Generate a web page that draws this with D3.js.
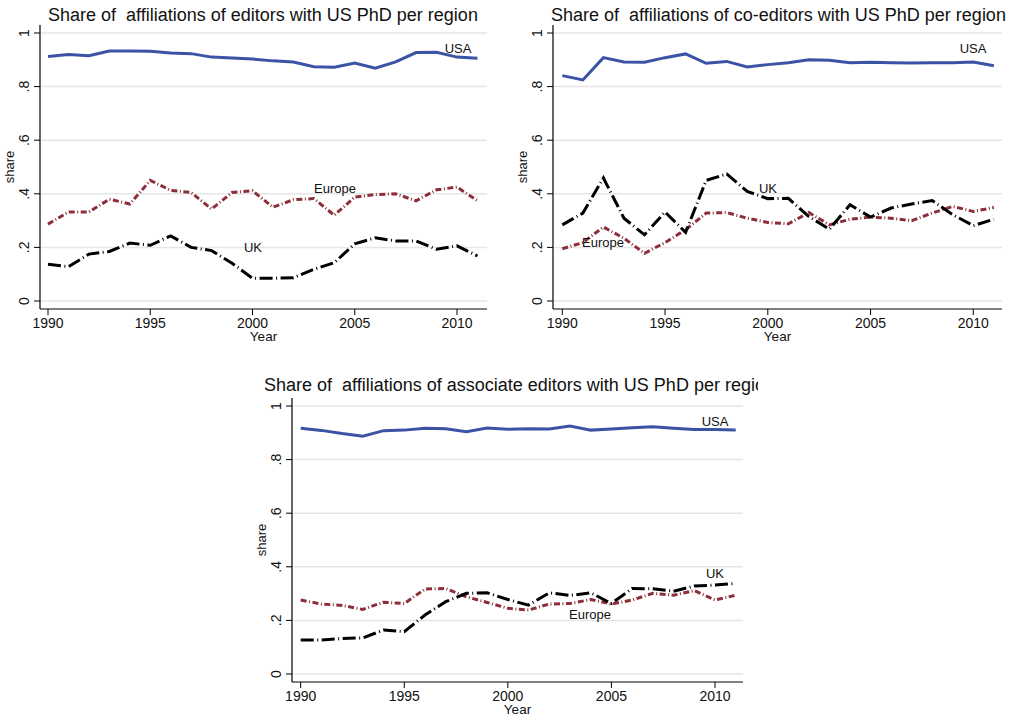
<!DOCTYPE html>
<html lang="en">
<head>
<meta charset="utf-8">
<title>Share of affiliations with US PhD per region</title>
<script src="https://cdn.jsdelivr.net/npm/d3@7"></script>
<style>
    body { margin: 0; background: #fff; }
    text { font-family: "Liberation Sans", Arial, Helvetica, sans-serif; fill: #111; }
</style>
</head>
<body>
<div id="chart"></div>
<script>
var WIDTH = 1014;
var HEIGHT = 728;

var years = d3.range(1990, 2012);
var xTicks = [1990, 1995, 2000, 2005, 2010];
var yTicks = [0, 0.2, 0.4, 0.6, 0.8, 1];
var yTickLabels = ["0", ".2", ".4", ".6", ".8", "1"];

// editors
var editorsUSA = [0.912, 0.920, 0.915, 0.933, 0.933, 0.932, 0.925, 0.923, 0.910, 0.907, 0.903,
    0.896, 0.892, 0.874, 0.872, 0.888, 0.869, 0.892, 0.927, 0.928, 0.910, 0.906];
var editorsEurope = [0.287, 0.332, 0.332, 0.380, 0.362, 0.450, 0.413, 0.405, 0.343, 0.405, 0.411,
    0.350, 0.378, 0.382, 0.320, 0.388, 0.397, 0.400, 0.374, 0.415, 0.425, 0.374];
var editorsUK = [0.137, 0.128, 0.175, 0.185, 0.216, 0.208, 0.243, 0.200, 0.188, 0.141, 0.085,
    0.085, 0.087, 0.118, 0.143, 0.213, 0.236, 0.224, 0.224, 0.193, 0.206, 0.168];

// co-editors
var coeditorsUSA = [0.841, 0.825, 0.908, 0.892, 0.891, 0.908, 0.922, 0.887, 0.894, 0.873, 0.882,
    0.889, 0.900, 0.898, 0.889, 0.891, 0.889, 0.888, 0.889, 0.889, 0.892, 0.878];
var coeditorsEurope = [0.195, 0.218, 0.276, 0.234, 0.178, 0.218, 0.266, 0.328, 0.330, 0.309, 0.293,
    0.288, 0.330, 0.284, 0.305, 0.313, 0.309, 0.300, 0.328, 0.353, 0.334, 0.349];
var coeditorsUK = [0.284, 0.328, 0.459, 0.309, 0.247, 0.332, 0.256, 0.450, 0.474, 0.409, 0.382,
    0.383, 0.315, 0.268, 0.359, 0.313, 0.347, 0.362, 0.375, 0.322, 0.281, 0.305];

// associate editors
var associateUSA = [0.917, 0.909, 0.897, 0.887, 0.908, 0.910, 0.917, 0.915, 0.904, 0.918, 0.913,
    0.915, 0.914, 0.925, 0.910, 0.914, 0.919, 0.923, 0.917, 0.912, 0.912, 0.910];
var associateEurope = [0.276, 0.261, 0.256, 0.241, 0.268, 0.263, 0.317, 0.319, 0.288, 0.267, 0.245,
    0.239, 0.261, 0.263, 0.278, 0.261, 0.276, 0.301, 0.294, 0.311, 0.276, 0.294];
var associateUK = [0.127, 0.127, 0.132, 0.135, 0.164, 0.158, 0.220, 0.270, 0.301, 0.303, 0.278,
    0.257, 0.303, 0.293, 0.303, 0.263, 0.319, 0.318, 0.309, 0.328, 0.332, 0.338];

var styles = {
    USA:    { color: "#3b53a4", dash: null },
    Europe: { color: "#8c2f3b", dash: "6,2.5,1,2.5" },
    UK:     { color: "#000000", dash: "13,3.5,1,3.5" }
};

// panel layout: 1990/2010 tick pixels, axis lines and label spots
var panels = [
    { title: "Share of  affiliations of editors with US PhD per region",
      series: { Europe: editorsEurope, UK: editorsUK, USA: editorsUSA },
      x1990: 48, x2010: 457, left: 40, right: 487, y0: 301, y1: 33, axisY: 309, top: 25,
      titleX: 48, titleY: 21, clip: null,
      labels: { USA: [458, 53], Europe: [335, 193], UK: [253, 252] } },
    { title: "Share of  affiliations of co-editors with US PhD per region",
      series: { Europe: coeditorsEurope, UK: coeditorsUK, USA: coeditorsUSA },
      x1990: 562.3, x2010: 973.3, left: 553, right: 1002, y0: 301, y1: 33, axisY: 309, top: 25,
      titleX: 551, titleY: 21, clip: null,
      labels: { USA: [973, 53], UK: [768, 193], Europe: [603, 247] } },
    { title: "Share of  affiliations of associate editors with US PhD per region",
      series: { Europe: associateEurope, UK: associateUK, USA: associateUSA },
      x1990: 300.7, x2010: 715, left: 292, right: 743, y0: 674, y1: 406, axisY: 682, top: 398,
      titleX: 264, titleY: 391, clip: 758,
      labels: { USA: [715, 426], UK: [715, 578], Europe: [590, 619] } }
];

const svg = d3.select("#chart")
    .append("svg")
    .attr("width", WIDTH)
    .attr("height", HEIGHT);

panels.forEach(function(p, i) {
    var g = svg.append("g");
    var step = (p.x2010 - p.x1990) / 20;
    var x = d3.scaleLinear().domain([1990, 2011]).range([p.x1990, p.x2010 + step]);
    var y = d3.scaleLinear().domain([0, 1]).range([p.y0, p.y1]);

    // title (third one is clipped on the right like the original)
    if (p.clip) {
        svg.append("clipPath").attr("id", "clip" + i)
            .append("rect").attr("x", 0).attr("y", p.titleY - 25)
            .attr("width", p.clip).attr("height", 40);
    }
    g.append("text")
        .attr("x", p.titleX)
        .attr("y", p.titleY)
        .attr("font-size", 18)
        .attr("clip-path", p.clip ? "url(#clip" + i + ")" : null)
        .style("white-space", "pre")
        .text(p.title);

    // gridlines
    g.selectAll(".grid")
        .data(yTicks)
        .enter().append("line")
        .attr("x1", p.left + 1).attr("x2", p.right)
        .attr("y1", d => y(d)).attr("y2", d => y(d))
        .attr("stroke", "#e6e6e6")
        .attr("stroke-width", 1.5);

    // y axis
    g.append("line")
        .attr("x1", p.left).attr("x2", p.left)
        .attr("y1", p.top).attr("y2", p.axisY)
        .attr("stroke", "#000").attr("stroke-width", 1.2);
    g.selectAll(".ytick")
        .data(yTicks)
        .enter().append("line")
        .attr("x1", p.left - 6).attr("x2", p.left)
        .attr("y1", d => y(d)).attr("y2", d => y(d))
        .attr("stroke", "#000").attr("stroke-width", 1);
    g.selectAll(".ylab")
        .data(yTicks)
        .enter().append("text")
        .attr("transform", d => "translate(" + (p.left - 11) + "," + y(d) + ") rotate(-90)")
        .attr("text-anchor", "middle")
        .attr("font-size", 14)
        .text((d, j) => yTickLabels[j]);
    g.append("text")
        .attr("transform", "translate(" + (p.left - 26) + "," + ((p.y0 + p.y1) / 2) + ") rotate(-90)")
        .attr("text-anchor", "middle")
        .attr("font-size", 13)
        .text("share");

    // x axis
    g.append("line")
        .attr("x1", p.left).attr("x2", p.right)
        .attr("y1", p.axisY).attr("y2", p.axisY)
        .attr("stroke", "#000").attr("stroke-width", 1.2);
    g.selectAll(".xtick")
        .data(xTicks)
        .enter().append("line")
        .attr("x1", d => x(d)).attr("x2", d => x(d))
        .attr("y1", p.axisY).attr("y2", p.axisY + 6)
        .attr("stroke", "#000").attr("stroke-width", 1);
    g.selectAll(".xlab")
        .data(xTicks)
        .enter().append("text")
        .attr("x", d => x(d))
        .attr("y", p.axisY + 19)
        .attr("text-anchor", "middle")
        .attr("font-size", 14)
        .text(d => d);
    g.append("text")
        .attr("x", (p.left + p.right) / 2)
        .attr("y", p.axisY + 32)
        .attr("text-anchor", "middle")
        .attr("font-size", 13.5)
        .text("Year");

    // lines
    var line = d3.line()
        .x((d, j) => x(years[j]))
        .y(d => y(d));
    Object.keys(p.series).forEach(function(name) {
        g.append("path")
            .datum(p.series[name])
            .attr("d", line)
            .attr("fill", "none")
            .attr("stroke", styles[name].color)
            .attr("stroke-width", 3)
            .attr("stroke-dasharray", styles[name].dash);
    });

    // series labels
    Object.keys(p.labels).forEach(function(name) {
        g.append("text")
            .attr("x", p.labels[name][0])
            .attr("y", p.labels[name][1])
            .attr("text-anchor", "middle")
            .attr("font-size", 13)
            .text(name);
    });
});
</script>
</body>
</html>
